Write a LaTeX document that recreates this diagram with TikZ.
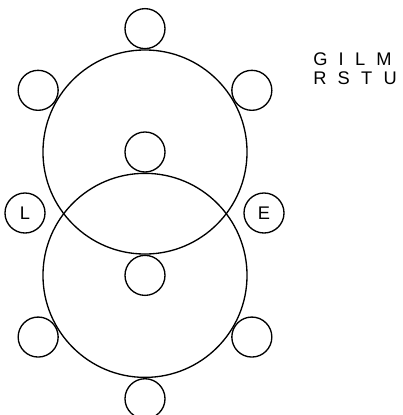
\documentclass[tikz,border=0pt]{standalone}
\usepackage{fontspec}
\setsansfont{Liberation Sans}
\usepackage{tikz}
\usetikzlibrary{positioning}
\newcommand{\labelfont}{\sffamily\fontsize{13}{15}\selectfont}
\newcommand{\rowfont}{\sffamily\fontsize{13}{15}\selectfont\spaceskip=8pt\relax}
\tikzset{
  ring/.style  = {circle, draw=black, line width=0.95pt, minimum size=5.1cm, inner sep=0pt},
  bead/.style  = {circle, draw=black, line width=0.95pt, minimum size=1cm, inner sep=0pt, font=\labelfont},
  letters/.style = {anchor=base west, inner sep=0pt, font=\rowfont}
}
\begin{document}
\begin{tikzpicture}[x=0.025cm, y=-0.025cm, node distance=0pt]
  \useasboundingbox (0,0) rectangle (402,415);
  % two big rings, each with its beads
  \node[ring] (upper) at (145,152) {};
  \node[bead] (upcore) at (upper.center) {};
  \node[ring, below=of upcore] (lower) {};
  \node[bead] (lowcore) at (lower.center) {};

  \node[bead, above=of upper]              (uptop)   {};
  \node[bead, anchor=330] at (upper.150)   (upleft)  {};
  \node[bead, anchor=210] at (upper.30)    (upright) {};

  \node[bead, below=of lower]              (lowbot)   {};
  \node[bead, anchor=30]  at (lower.210)   (lowleft)  {};
  \node[bead, anchor=150] at (lower.330)   (lowright) {};

  % labelled beads beside the crossings
  \node[bead] (lbead) at (25,213)  {L};
  \node[bead] (ebead) at (264,213) {E};

  % letter rows
  \node[letters] (rowone) at (313,65) {G I L M};
  \node[letters] (rowtwo) at (313,84) {R S T U};
\end{tikzpicture}
\end{document}
